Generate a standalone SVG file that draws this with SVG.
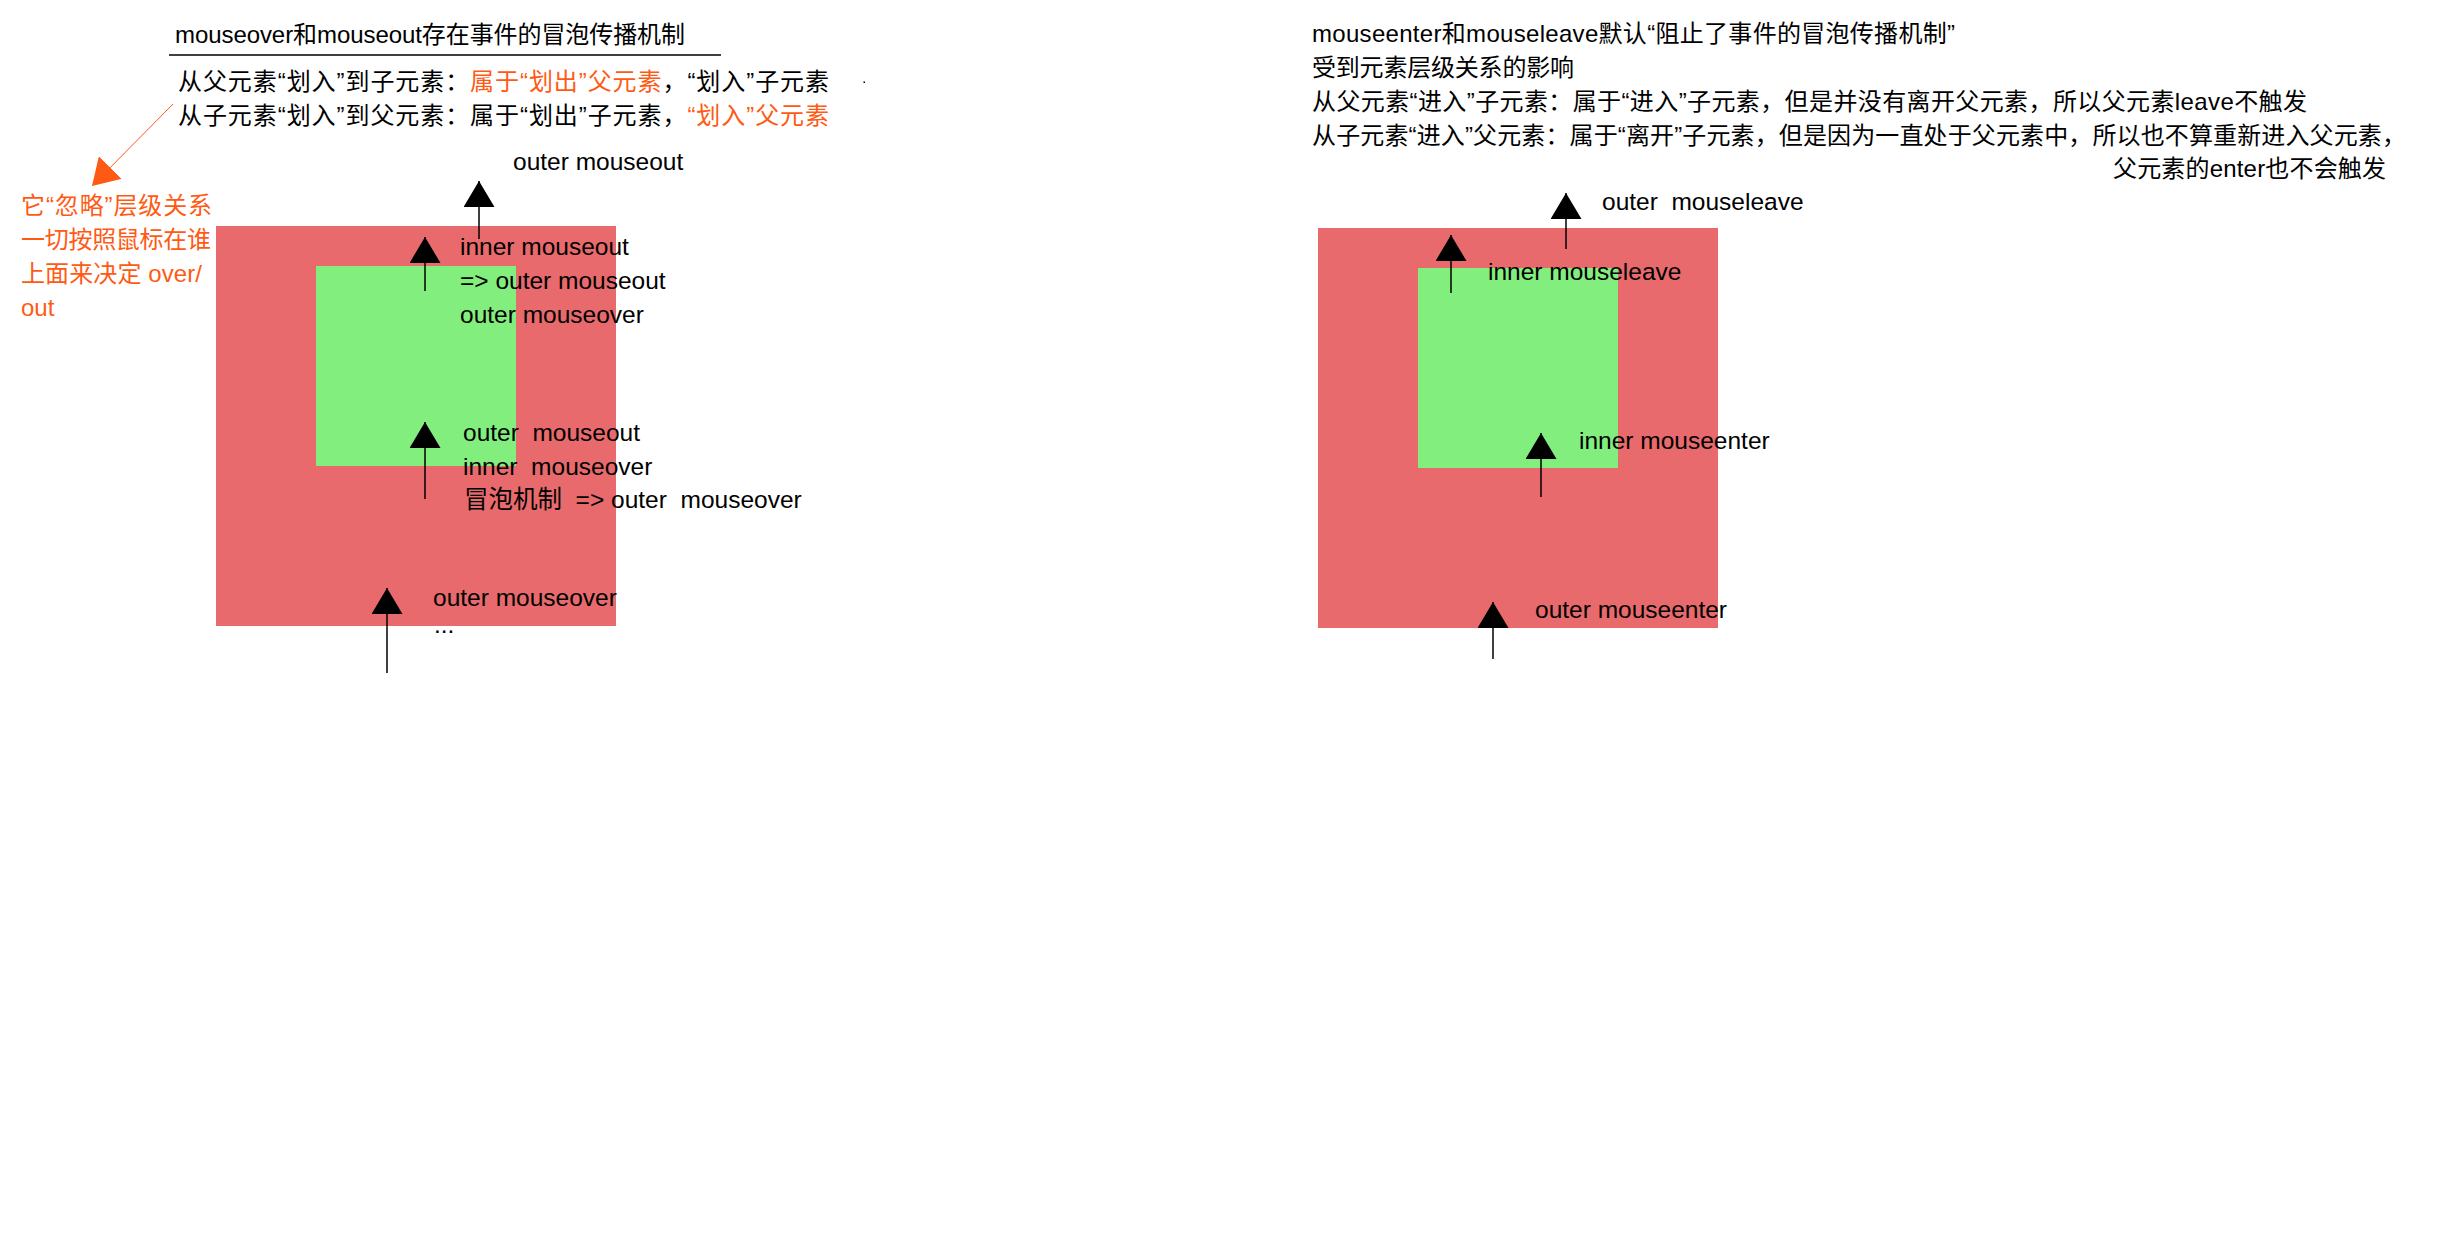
<svg xmlns="http://www.w3.org/2000/svg" width="2453" height="1244" viewBox="0 0 2453 1244">
<style>
text{font-family:'Liberation Sans','Noto Sans CJK SC',sans-serif;fill:#000}
.cn{font-size:24px}
.lb{font-size:24.5px}
.or{fill:#FF5A14}
.outer{fill:#E86A6C}
.inner{fill:#82EE7E}
.conn{stroke:#000;stroke-width:1.5;fill:none;marker-end:url(#ah)}
.oconn{stroke:#FF5A14;stroke-width:1;fill:none;marker-end:url(#oh)}
</style>
<defs>
<marker id="ah" viewBox="0 0 26 31" refX="26" refY="15.5" markerWidth="26" markerHeight="31" markerUnits="userSpaceOnUse" orient="auto">
<path d="M0,0 L26,15.5 L0,31 Z" fill="#000"/>
</marker>
<marker id="oh" viewBox="0 0 26 32" refX="26" refY="16" markerWidth="26" markerHeight="32" markerUnits="userSpaceOnUse" orient="auto">
<path d="M0,0 L26,16 L0,32 Z" fill="#FF5A14"/>
</marker>
</defs>
<rect width="2453" height="1244" fill="#fff"/>

<g id="left-heading">
<text class="cn" x="175" y="43" textLength="510">mouseover和mouseout存在事件的冒泡传播机制</text>
<line x1="169" y1="55" x2="721" y2="55" stroke="#000" stroke-width="1.5"/>
<text class="cn" x="178" y="90" textLength="651">从父元素“划入”到子元素：<tspan class="or">属于“划出”父元素</tspan>，“划入”子元素</text>
<text class="cn" x="178" y="124" textLength="651">从子元素“划入”到父元素：属于“划出”子元素，<tspan class="or">“划入”父元素</tspan></text>
<rect x="863.5" y="81.5" width="1.5" height="1.5" fill="#000"/>
</g>

<g id="left-note">
<text class="cn or" x="21" y="214" textLength="191">它“忽略”层级关系</text>
<text class="cn or" x="21" y="248" textLength="190">一切按照鼠标在谁</text>
<text class="cn or" x="21" y="282" textLength="181">上面来决定 over/</text>
<text class="cn or" x="21" y="316">out</text>
</g>

<g id="left-outer"><rect class="outer" x="216" y="226" width="400" height="400"/></g>
<g id="left-inner"><rect class="inner" x="316" y="266" width="200" height="200"/></g>

<g id="left-labels">
<text class="lb" x="513" y="170">outer mouseout</text>
<text class="lb" x="460" y="255">inner mouseout</text>
<text class="lb" x="460" y="289">=&gt; outer mouseout</text>
<text class="lb" x="460" y="323">outer mouseover</text>
<text class="lb" x="463" y="441" xml:space="preserve">outer  mouseout</text>
<text class="lb" x="463" y="475" xml:space="preserve">inner  mouseover</text>
<text class="lb" x="464" y="508" xml:space="preserve">冒泡机制  =&gt; outer  mouseover</text>
<text class="lb" x="433" y="606">outer mouseover</text>
<text class="lb" x="434" y="633">...</text>
</g>

<g id="right-heading">
<text class="cn" x="1312" y="42" textLength="643">mouseenter和mouseleave默认“阻止了事件的冒泡传播机制”</text>
<text class="cn" x="1312" y="76" textLength="262">受到元素层级关系的影响</text>
<text class="cn" x="1312" y="110" textLength="995">从父元素“进入”子元素：属于“进入”子元素，但是并没有离开父元素，所以父元素leave不触发</text>
<text class="cn" x="1312" y="144" textLength="1094">从子元素“进入”父元素：属于“离开”子元素，但是因为一直处于父元素中，所以也不算重新进入父元素，</text>
<text class="cn" x="2113" y="177" textLength="273">父元素的enter也不会触发</text>
</g>

<g id="right-outer"><rect class="outer" x="1318" y="228" width="400" height="400"/></g>
<g id="right-inner"><rect class="inner" x="1418" y="268" width="200" height="200"/></g>

<g id="right-labels">
<text class="lb" x="1602" y="210" xml:space="preserve">outer  mouseleave</text>
<text class="lb" x="1488" y="280">inner mouseleave</text>
<text class="lb" x="1579" y="449">inner mouseenter</text>
<text class="lb" x="1535" y="618">outer mouseenter</text>
</g>

<g id="connectors">
<line class="oconn" x1="173" y1="104" x2="92" y2="186"/>
<line class="conn" x1="479" y1="239" x2="479" y2="181"/>
<line class="conn" x1="425" y1="291" x2="425" y2="237"/>
<line class="conn" x1="425" y1="499" x2="425" y2="422"/>
<line class="conn" x1="387" y1="673" x2="387" y2="588"/>
<line class="conn" x1="1566" y1="249" x2="1566" y2="193"/>
<line class="conn" x1="1451" y1="293" x2="1451" y2="235"/>
<line class="conn" x1="1541" y1="497" x2="1541" y2="433"/>
<line class="conn" x1="1493" y1="659" x2="1493" y2="602"/>
</g>
</svg>
